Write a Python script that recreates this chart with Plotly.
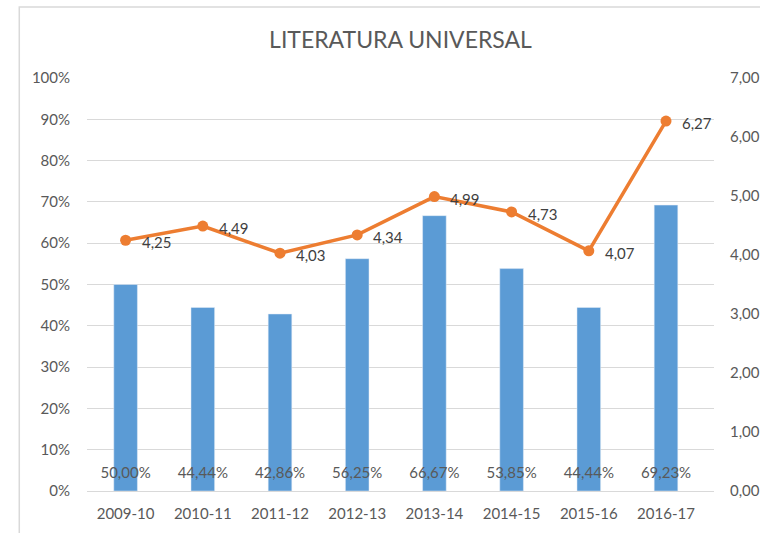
import plotly.graph_objects as go

categories = ["2009-10", "2010-11", "2011-12", "2012-13", "2013-14", "2014-15", "2015-16", "2016-17"]
pct_values = [0.5000, 0.4444, 0.4286, 0.5625, 0.6667, 0.5385, 0.4444, 0.6923]
avg_values = [4.25, 4.49, 4.03, 4.34, 4.99, 4.73, 4.07, 6.27]
left_ticks = [0, 0.1, 0.2, 0.3, 0.4, 0.5, 0.6, 0.7, 0.8, 0.9, 1.0]
right_ticks = [0, 1, 2, 3, 4, 5, 6, 7]

FONT = "Lato"
GREY = "#595959"

fig = go.Figure()
fig.add_trace(go.Bar(
    x=categories, y=pct_values, marker_color="#5B9BD5",
    hoverinfo="skip", showlegend=False,
))
fig.add_trace(go.Scatter(
    x=categories, y=[0.04] * len(categories), mode="text",
    text=[f"{v*100:.2f}%".replace(".", ",") for v in pct_values],
    textfont=dict(family=FONT, size=15, color=GREY),
    showlegend=False, hoverinfo="skip",
))
fig.add_trace(go.Scatter(
    x=categories, y=avg_values, yaxis="y2", mode="lines+markers",
    line=dict(color="#ED7D31", width=3.5),
    marker=dict(size=11, color="#ED7D31"),
    showlegend=False, hoverinfo="skip", cliponaxis=False,
))

annotations = [
    dict(x=c, y=v, xref="x", yref="y2", text=f"{v:.2f}".replace(".", ","),
         showarrow=False, xanchor="left", yanchor="middle", xshift=14, yshift=-2,
         font=dict(family=FONT, size=15, color="#404040"))
    for c, v in zip(categories, avg_values)
]

fig.update_layout(
    width=760, height=533,
    margin=dict(l=87, r=46, t=78, b=42),
    paper_bgcolor="white", plot_bgcolor="white",
    separators=",.",
    bargap=0.694,
    annotations=annotations,
    title=dict(text="LITERATURA UNIVERSAL", x=0.5, xref="paper", y=1 - 40 / 533, yref="container",
               xanchor="center", yanchor="middle", font=dict(family=FONT, size=23, color=GREY)),
    font=dict(family=FONT, size=15, color=GREY),
    xaxis=dict(type="category", showgrid=False, showline=True, linecolor="#D9D9D9", ticks="",
               automargin=False, ticklabelstandoff=9,
               tickfont=dict(family=FONT, size=15, color=GREY)),
    yaxis=dict(range=[0, 1], tickvals=left_ticks, tickformat=".0%", gridcolor="#D9D9D9",
               automargin=False,
               zeroline=False, showline=False, ticks="", ticklabelstandoff=16,
               tickfont=dict(family=FONT, size=15, color=GREY)),
    yaxis2=dict(range=[0, 7], tickvals=right_ticks, tickformat=".2f", overlaying="y", side="right",
                automargin=False,
                showgrid=False, zeroline=False, showline=False, ticks="", ticklabelstandoff=15,
                tickfont=dict(family=FONT, size=15, color=GREY)),
    shapes=[dict(type="rect", xref="paper", yref="paper", x0=-0.108, x1=1.3, y0=-0.3, y1=1.172,
                 line=dict(color="#D9D9D9", width=1.5), fillcolor="rgba(0,0,0,0)", layer="below")],
)

fig.write_html(
    "out.html",
    config={"displayModeBar": False},
    post_script="document.body.style.margin='0';document.body.style.overflow='hidden';",
)
